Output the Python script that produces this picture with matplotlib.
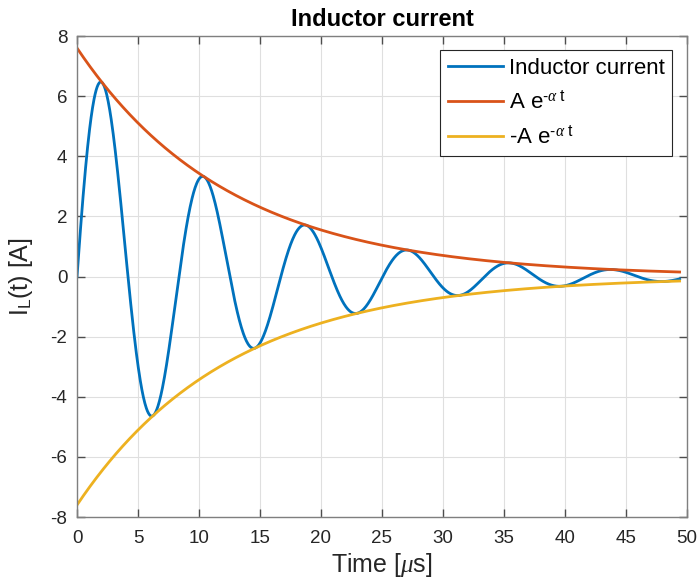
import matplotlib.pyplot as plt
import numpy as np

# Font setup (Arial-like, MATLAB look)
plt.rcParams['font.family'] = ['Liberation Sans', 'DejaVu Sans']
plt.rcParams['mathtext.fontset'] = 'custom'
plt.rcParams['mathtext.rm'] = 'Liberation Sans'
plt.rcParams['mathtext.it'] = 'Liberation Serif:italic'
plt.rcParams['mathtext.bf'] = 'Liberation Sans:bold'
plt.rcParams['axes.unicode_minus'] = False

# Circuit response parameters
AMPLITUDE = 7.6          # A
ALPHA = 0.0795           # 1/us, damping
OMEGA = 0.752            # rad/us, damped angular frequency
T_END = 49.4             # us

t = np.linspace(0, T_END, 1200)
envelope = AMPLITUDE * np.exp(-ALPHA * t)
current = envelope * np.sin(OMEGA * t)

labels = ['Inductor current',
          r'A e$^{\text{-}\alpha\ \mathrm{t}}$',
          r'-A e$^{\text{-}\alpha\ \mathrm{t}}$']
colors = ['#0072BD', '#D95319', '#EDB120']

x_ticks = np.arange(0, 51, 5)
y_ticks = np.arange(-8, 9, 2)

fig = plt.figure(figsize=(6.97, 5.83), dpi=100)
ax = fig.add_axes([0.1105, 0.1132, 0.875, 0.825])

ax.plot(t, current, color=colors[0], lw=2, label=labels[0])
ax.plot(t, envelope, color=colors[1], lw=2, label=labels[1])
ax.plot(t, -envelope, color=colors[2], lw=2, label=labels[2])

ax.set_xlim(0, 50)
ax.set_ylim(-8, 8)
ax.set_xticks(x_ticks)
ax.set_yticks(y_ticks)
ax.grid(True, color='#dfdfdf', lw=0.8)
ax.set_axisbelow(True)

for sp in ax.spines.values():
    sp.set_color('#7f7f7f')
    sp.set_linewidth(1.0)
ax.tick_params(direction='in', top=True, right=True, length=6, width=1,
               color='#4d4d4d', labelcolor='#262626', labelsize=13.5)
ax.tick_params(axis='x', pad=9)
ax.tick_params(axis='y', pad=7)

ax.set_title('Inductor current', fontsize=17, fontweight='bold', color='black', pad=7)
ax.set_xlabel(r'Time [$\mu$s]', fontsize=18, color='#262626', labelpad=3)
ax.set_ylabel(r'I$_\mathrm{L}$(t) [A]', fontsize=18, color='#262626', labelpad=11)

leg = ax.legend(loc='upper right', fontsize=16, frameon=True, fancybox=False,
                edgecolor='#262626', framealpha=1, borderaxespad=0.65,
                handlelength=2.5, handletextpad=0.25, labelspacing=0.55,
                borderpad=0.35)
leg.get_frame().set_linewidth(0.8)

fig.savefig('out.png', dpi=100, facecolor='white')
